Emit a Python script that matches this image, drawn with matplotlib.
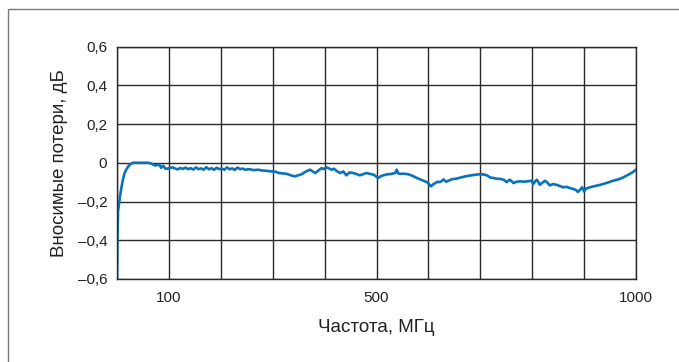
import matplotlib
matplotlib.use("Agg")
from matplotlib import pyplot as plt
from matplotlib.patches import Rectangle

# Frequency (MHz) and insertion loss (dB)
freq_mhz = [
    0, 1, 2, 4, 6, 9, 12, 15, 19, 23, 27, 31, 40, 50, 60, 66, 73, 78, 82,
    85, 89, 93, 97, 102, 107, 112, 117, 122, 127, 132, 137, 142, 147, 152,
    157, 162, 167, 172, 177, 182, 187, 192, 197, 202, 207, 212, 217, 222,
    227, 232, 237, 242, 247, 255, 263, 272, 280, 290, 298, 305, 312, 320,
    328, 336, 343, 350, 356, 364, 372, 378, 382, 388, 394, 399, 404, 409,
    414, 418, 423, 430, 436, 442, 448, 455, 461, 468, 474, 481, 488, 495,
    503, 508, 513, 520, 528, 536, 539, 542, 548, 555, 562, 570, 578, 586,
    592, 597, 601, 605, 609, 613, 618, 622, 625, 629, 634, 638, 642, 645,
    652, 660, 670, 680, 690, 696, 705, 712, 719, 726, 732, 738, 745, 751,
    754, 757, 761, 764, 770, 777, 785, 792, 799, 802, 806, 809, 812, 815,
    820, 825, 830, 834, 840, 847, 853, 860, 866, 873, 880, 885, 888, 892,
    896, 898, 900, 904, 911, 918, 925, 931, 937, 944, 950, 957, 963, 970,
    976, 982, 988, 993, 998, 1000,
]
loss_db = [
    -0.60, -0.36, -0.25, -0.21, -0.17, -0.12, -0.08, -0.05, -0.03, -0.015,
    -0.005, 0.0, 0.0, 0.0, 0.0, -0.004, -0.014, -0.012, -0.010, -0.026,
    -0.015, -0.030, -0.031, -0.026, -0.024, -0.030, -0.034, -0.027, -0.032,
    -0.025, -0.033, -0.028, -0.035, -0.024, -0.033, -0.029, -0.036, -0.023,
    -0.034, -0.028, -0.036, -0.026, -0.033, -0.030, -0.036, -0.024, -0.034,
    -0.029, -0.037, -0.025, -0.033, -0.030, -0.036, -0.033, -0.038, -0.036,
    -0.040, -0.042, -0.045, -0.046, -0.053, -0.055, -0.058, -0.066, -0.070,
    -0.064, -0.059, -0.045, -0.036, -0.046, -0.053, -0.040, -0.028, -0.032,
    -0.024, -0.030, -0.036, -0.031, -0.042, -0.053, -0.045, -0.065, -0.050,
    -0.053, -0.058, -0.065, -0.059, -0.053, -0.058, -0.062, -0.079, -0.070,
    -0.065, -0.060, -0.058, -0.053, -0.036, -0.056, -0.057, -0.057, -0.060,
    -0.068, -0.079, -0.088, -0.095, -0.100, -0.109, -0.122, -0.112, -0.105,
    -0.098, -0.100, -0.096, -0.086, -0.098, -0.093, -0.090, -0.085, -0.083,
    -0.078, -0.071, -0.066, -0.062, -0.060, -0.060, -0.064, -0.076, -0.079,
    -0.083, -0.083, -0.088, -0.100, -0.092, -0.088, -0.097, -0.105, -0.098,
    -0.096, -0.098, -0.095, -0.093, -0.110, -0.095, -0.088, -0.100, -0.114,
    -0.102, -0.093, -0.105, -0.117, -0.110, -0.114, -0.120, -0.127, -0.124,
    -0.131, -0.136, -0.142, -0.151, -0.140, -0.127, -0.135, -0.148, -0.133,
    -0.127, -0.122, -0.118, -0.114, -0.109, -0.104, -0.098, -0.092, -0.088,
    -0.082, -0.075, -0.066, -0.058, -0.050, -0.040, -0.036,
]

x_grid = list(range(0, 1001, 100))
x_labels = {100: "100", 500: "500", 1000: "1000"}
y_ticks = [-0.6, -0.4, -0.2, 0.0, 0.2, 0.4, 0.6]
y_labels = ["\u20130,6", "\u20130,4", "\u20130,2", "0", "0,2", "0,4", "0,6"]

plt.rcParams["font.family"] = ["Liberation Sans", "DejaVu Sans"]

fig = plt.figure(figsize=(6.79, 3.62), dpi=100)
# thin grey frame around the whole picture (right/bottom edges fall outside)
fig.patches.append(Rectangle((7.5 / 679, -0.1), 1.2, 1.1 - 9.5 / 362,
                             transform=fig.transFigure, fill=False,
                             edgecolor="#777777", linewidth=1.0))

ax = fig.add_axes([117 / 679, 1 - 279 / 362, 519 / 679, 232.5 / 362])
ax.plot(freq_mhz, loss_db, color="#0a72ba", linewidth=1.9,
        solid_joinstyle="round")

ax.set_xlim(0, 1000)
ax.set_ylim(-0.6, 0.6)
ax.set_xticks(x_grid)
ax.set_xticklabels([x_labels.get(v, "") for v in x_grid])
ax.set_yticks(y_ticks)
ax.set_yticklabels(y_labels)
ax.grid(True, color="#2a2a2a", linewidth=1.0)
ax.tick_params(length=0, labelsize=11, colors="#222222")
ax.tick_params(axis="y", pad=7)
ax.tick_params(axis="x", pad=9)
for s in ax.spines.values():
    s.set_color("#2a2a2a")
    s.set_linewidth(1.0)

ax.set_xlabel("Частота, МГц", fontsize=13.5, color="#222222", labelpad=10)
ax.set_ylabel("Вносимые потери, дБ", fontsize=13.5, color="#222222", labelpad=7)

fig.savefig("out.png", dpi=100)
